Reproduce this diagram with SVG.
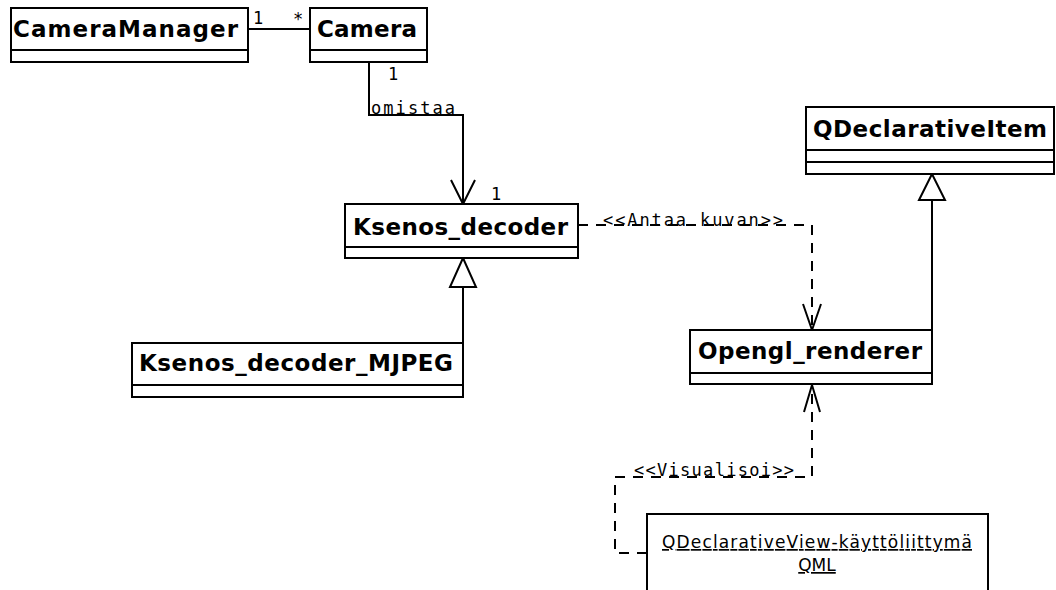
<svg xmlns="http://www.w3.org/2000/svg" width="1056" height="590" viewBox="0 0 1056 590">
  <style>
    .box { fill: #ffffff; stroke: #000000; stroke-width: 2; }
    .div { stroke: #000000; stroke-width: 2; }
    .name { font-family: "DejaVu Sans", "Liberation Sans", sans-serif; font-weight: bold; font-size: 23px; fill: #000000; }
    .mono { font-family: "DejaVu Sans Mono", "Liberation Mono", monospace; font-size: 17px; fill: #000000; }
    .obj { font-family: "DejaVu Sans", "Liberation Sans", sans-serif; font-size: 17px; fill: #000000; text-decoration: underline; }
    .line { fill: none; stroke: #000000; stroke-width: 2; }
    .dash { fill: none; stroke: #000000; stroke-width: 2; stroke-dasharray: 10 8; }
    .tri { fill: #ffffff; stroke: #000000; stroke-width: 2; stroke-linejoin: miter; }
  </style>

  <rect width="1056" height="590" fill="#ffffff"/>

  <!-- connectors -->
  <g id="connectors">
    <!-- CameraManager 1 — * Camera -->
    <line class="line" x1="248" y1="29" x2="310" y2="29"/>
    <!-- Camera owns Ksenos_decoder -->
    <polyline class="line" points="369,62 369,115 463,115 463,204"/>
    <polyline class="line" points="451,180 463,204 475,180"/>
    <!-- Ksenos_decoder_MJPEG generalises Ksenos_decoder -->
    <line class="line" x1="463" y1="343" x2="463" y2="287"/>
    <polygon class="tri" points="463,258 450,287 476,287"/>
    <!-- Opengl_renderer generalises QDeclarativeItem -->
    <line class="line" x1="932" y1="330" x2="932" y2="200"/>
    <polygon class="tri" points="932,174 919,200 945,200"/>
    <!-- <<Antaa kuvan>> dependency -->
    <polyline class="dash" points="578,225 812,225 812,328"/>
    <polyline class="line" points="803,304 812,330 821,304"/>
    <!-- <<Visualisoi>> dependency -->
    <polyline class="dash" points="647,553 615,553 615,477 812,477 812,386"/>
    <polyline class="line" points="804,412 812,385 820,412"/>
  </g>

  <!-- connector labels -->
  <g id="labels">
    <text class="mono" x="253" y="24">1</text>
    <text class="mono" x="293" y="25">*</text>
    <text class="mono" x="388" y="80">1</text>
    <text class="mono" x="371" y="114" textLength="84" lengthAdjust="spacing">omistaa</text>
    <text class="mono" x="491" y="200">1</text>
    <text class="mono" x="603" y="226" textLength="180" lengthAdjust="spacing">&lt;&lt;Antaa kuvan&gt;&gt;</text>
    <text class="mono" x="634" y="476" textLength="160" lengthAdjust="spacing">&lt;&lt;Visualisoi&gt;&gt;</text>
  </g>

  <g id="CameraManager">
    <rect class="box" x="11" y="8" width="237" height="54"/>
    <line class="div" x1="11" y1="50" x2="248" y2="50"/>
    <text class="name" x="13" y="37" textLength="225" lengthAdjust="spacing">CameraManager</text>
  </g>

  <g id="Camera">
    <rect class="box" x="310" y="8" width="117" height="54"/>
    <line class="div" x1="310" y1="50" x2="427" y2="50"/>
    <text class="name" x="317" y="37" textLength="100" lengthAdjust="spacing">Camera</text>
  </g>

  <g id="Ksenos_decoder">
    <rect class="box" x="345" y="204" width="233" height="54"/>
    <line class="div" x1="345" y1="247" x2="578" y2="247"/>
    <text class="name" x="353" y="235" textLength="215" lengthAdjust="spacing">Ksenos_decoder</text>
  </g>

  <g id="Ksenos_decoder_MJPEG">
    <rect class="box" x="132" y="343" width="331" height="54"/>
    <line class="div" x1="132" y1="385" x2="463" y2="385"/>
    <text class="name" x="139" y="371" textLength="314" lengthAdjust="spacing">Ksenos_decoder_MJPEG</text>
  </g>

  <g id="QDeclarativeItem">
    <rect class="box" x="806" y="107" width="248" height="67"/>
    <line class="div" x1="806" y1="150" x2="1054" y2="150"/>
    <line class="div" x1="806" y1="162" x2="1054" y2="162"/>
    <text class="name" x="813" y="137" textLength="234" lengthAdjust="spacing">QDeclarativeItem</text>
  </g>

  <g id="Opengl_renderer">
    <rect class="box" x="690" y="330" width="242" height="54"/>
    <line class="div" x1="690" y1="373" x2="932" y2="373"/>
    <text class="name" x="698" y="359" textLength="224" lengthAdjust="spacing">Opengl_renderer</text>
  </g>

  <g id="QDeclarativeView">
    <rect class="box" x="647" y="514" width="341" height="90"/>
    <text class="obj" x="817" y="548" text-anchor="middle" textLength="310" lengthAdjust="spacing">QDeclarativeView-käyttöliittymä</text>
    <text class="obj" x="817" y="571" text-anchor="middle">QML</text>
  </g>
</svg>
